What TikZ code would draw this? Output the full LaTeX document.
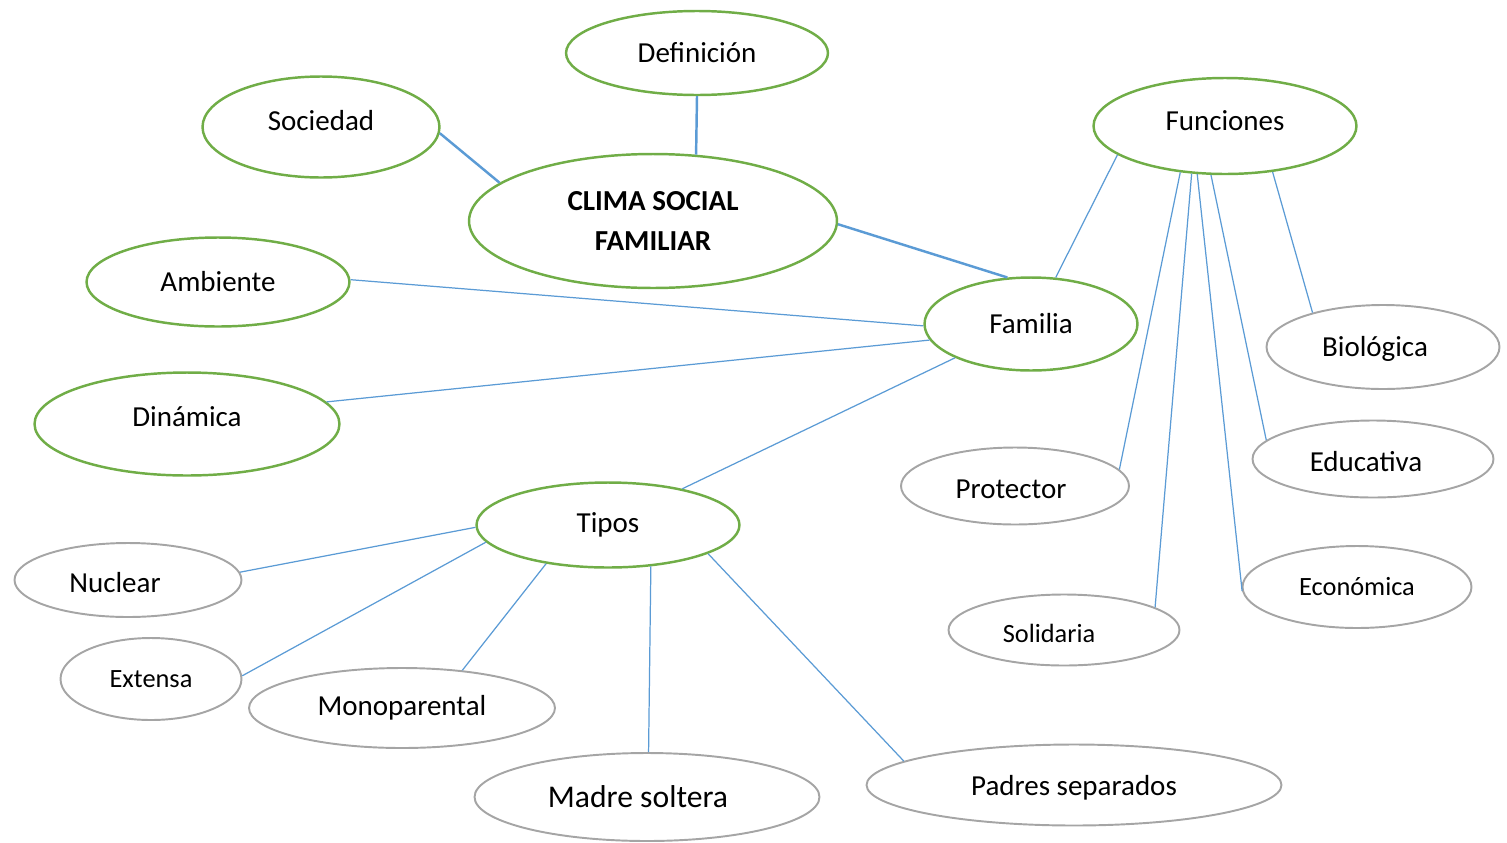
\documentclass[tikz,border=0pt]{standalone}
\usepackage{fontspec}
\setmainfont{Carlito}
\usetikzlibrary{shapes.geometric}

\definecolor{leafgreen}{RGB}{112,173,71}
\definecolor{softgray}{RGB}{165,165,165}
\definecolor{linkblue}{RGB}{91,155,213}

\begin{document}
\begin{tikzpicture}[x=0.02cm, y=-0.02cm,
        topic/.style={ellipse, draw=leafgreen, line width=1.4pt, inner sep=0pt, font=\fontsize{16.5}{20}\selectfont},
        leaf/.style={ellipse, draw=softgray, line width=1.1pt, inner sep=0pt, font=\fontsize{16.5}{20}\selectfont},
        small/.style={font=\fontsize{15}{18}\selectfont},
        txt/.style={inner sep=0pt, font=\fontsize{16.5}{20}\selectfont},
        link/.style={draw=linkblue, line width=0.7pt},
        mainlink/.style={draw=linkblue, line width=1.4pt}]

        \useasboundingbox (0,0) rectangle (1507,842);

        % Centre
        \node[topic, minimum width=7.36cm, minimum height=2.68cm, align=center,
              font=\fontsize{16.5}{23}\selectfont\bfseries] (clima) at (653,221) {CLIMA SOCIAL\\FAMILIAR};
        \node[topic, minimum width=5.24cm, minimum height=1.68cm] (definicion) at (697,53) {Definición};
        \node[topic, minimum width=4.74cm, minimum height=2.02cm,
              label={[txt, yshift=0.12cm]center:Sociedad}] (sociedad) at (321,127) {};

        % Familia and its neighbours
        \node[topic, minimum width=4.26cm, minimum height=1.86cm] (familia) at (1031,324) {Familia};
        \node[topic, minimum width=5.26cm, minimum height=1.78cm] (ambiente) at (218,282) {Ambiente};
        \node[topic, minimum width=6.10cm, minimum height=2.06cm,
              label={[txt, yshift=0.14cm]center:Dinámica}] (dinamica) at (187,424) {};

        % Funciones
        \node[topic, minimum width=5.26cm, minimum height=1.92cm,
              label={[txt, yshift=0.10cm]center:Funciones}] (funciones) at (1225,126) {};
        \node[leaf, minimum width=4.66cm, minimum height=1.68cm,
              label={[txt, xshift=-0.16cm, yshift=-0.04cm]center:Biológica}] (biologica) at (1383,347) {};
        \node[leaf, minimum width=4.82cm, minimum height=1.54cm,
              label={[txt, xshift=-0.14cm, yshift=-0.06cm]center:Educativa}] (educativa) at (1373,459) {};
        \node[leaf, minimum width=4.56cm, minimum height=1.54cm,
              label={[txt, xshift=-0.08cm, yshift=-0.06cm]center:Protector}] (protector) at (1015,486) {};
        \node[leaf, small, minimum width=4.58cm, minimum height=1.64cm] (economica) at (1357,587) {Económica};
        \node[leaf, minimum width=4.62cm, minimum height=1.42cm,
              label={[txt, small, xshift=-0.30cm, yshift=-0.06cm]center:Solidaria}] (solidaria) at (1064,630) {};

        % Tipos
        \node[topic, minimum width=5.26cm, minimum height=1.70cm] (tipos) at (608,525) {Tipos};
        \node[leaf, minimum width=4.54cm, minimum height=1.48cm,
              label={[txt, xshift=-0.26cm, yshift=-0.06cm]center:Nuclear}] (nuclear) at (128,580) {};
        \node[leaf, small, minimum width=3.62cm, minimum height=1.64cm] (extensa) at (151,679) {Extensa};
        \node[leaf, minimum width=6.12cm, minimum height=1.60cm] (monoparental) at (402,708) {Monoparental};
        \node[leaf, minimum width=6.90cm, minimum height=1.76cm,
              label={[txt, font=\fontsize{18}{22}\selectfont, xshift=-0.18cm]center:Madre soltera}] (madre) at (647,797) {};
        \node[leaf, minimum width=8.30cm, minimum height=1.62cm,
              label={[txt, yshift=-0.06cm]center:Padres separados}] (padres) at (1074,785) {};

        % Links to the centre
        \draw[mainlink] (sociedad.-3) -- (clima.166);
        \draw[mainlink] (definicion.270) -- (clima.57);
        \draw[mainlink] (clima.-1) -- (familia.117);

        % Links to Familia
        \draw[link] (familia.62) -- (funciones.195);
        \draw[link] (ambiente.1) -- (familia.181);
        \draw[link] (dinamica.9) -- (familia.189);
        \draw[link] (familia.204) -- (tipos.26);

        % Links to Funciones
        \draw[link] (funciones.-44) -- (biologica.154);
        \draw[link] (funciones.226) -- (protector.9);
        \draw[link] (funciones.235) -- (solidaria.14);
        \draw[link] (funciones.254) -- (educativa.170);
        \draw[link] (funciones.240) -- (economica.182);

        % Links to Tipos
        \draw[link] (tipos.181) -- (nuclear.4);
        \draw[link] (tipos.188) -- (extensa.2);
        \draw[link] (tipos.212) -- (monoparental.32);
        \draw[link] (tipos.-44) -- (madre.88);
        \draw[link] (tipos.-16) -- (padres.172);

    \end{tikzpicture}
\end{document}
